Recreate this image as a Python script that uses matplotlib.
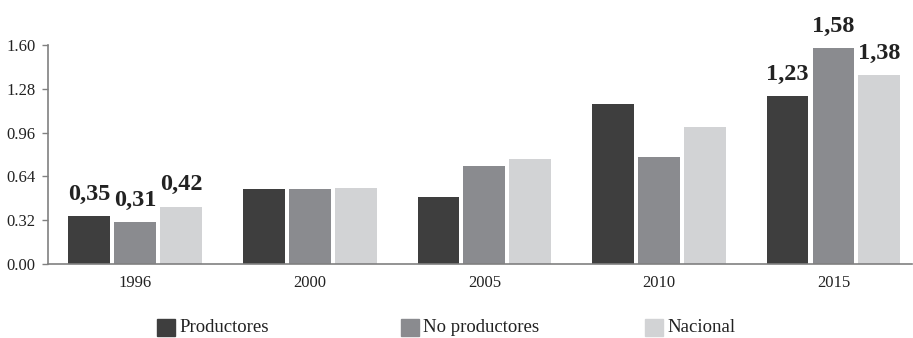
import matplotlib
matplotlib.use("Agg")
import matplotlib.pyplot as plt
from matplotlib.patches import Rectangle
import numpy as np

years = ["1996", "2000", "2005", "2010", "2015"]
series_names = ["Productores", "No productores", "Nacional"]
productores = [0.35, 0.545, 0.49, 1.17, 1.23]
no_productores = [0.31, 0.545, 0.715, 0.78, 1.58]
nacional = [0.42, 0.555, 0.765, 1.00, 1.38]
labeled_years = ["1996", "2015"]
yticks = [0.00, 0.32, 0.64, 0.96, 1.28, 1.60]

colors = ["#3e3e3e", "#8a8b8f", "#d2d3d5"]
serif = ["Liberation Serif", "DejaVu Serif"]
plt.rcParams["font.family"] = serif

W, H = 913, 338
fig = plt.figure(figsize=(W / 100, H / 100), dpi=100)
ax = fig.add_axes([48 / W, 1 - 264 / H, (912 - 48) / W, (264 - 45) / H])

x = np.arange(len(years))
width = 0.24
offset = 0.263
for i, (vals, name) in enumerate(zip([productores, no_productores, nacional], series_names)):
    bars = ax.bar(x + (i - 1) * offset, vals, width, color=colors[i], label=name)
    for j, (b, v) in enumerate(zip(bars, vals)):
        if years[j] in labeled_years:
            ax.annotate(f"{v:.2f}".replace(".", ","), (b.get_x() + b.get_width() / 2, v),
                        xytext=(0, 8), textcoords="offset points", ha="center", va="bottom",
                        fontsize=17.5, fontweight="bold", color="#222222", family=serif)

ax.set_xlim(-0.5, 4.45)
ax.set_ylim(0, 1.6)
ax.set_yticks(yticks)
ax.set_yticklabels([f"{t:.2f}" for t in yticks], fontsize=12, color="#222222", family=serif)
ax.set_xticks(x)
ax.set_xticklabels(years, fontsize=12, color="#222222", family=serif)
ax.tick_params(axis="x", length=0, pad=8)
ax.tick_params(axis="y", length=4, width=1, color="#808080", pad=5)
for s in ["top", "right"]:
    ax.spines[s].set_visible(False)
for s in ["left", "bottom"]:
    ax.spines[s].set_color("#808080")
    ax.spines[s].set_linewidth(1.2)

# legend drawn manually in figure pixel coordinates
legend_x = [157, 401, 645]
for name, col, lx in zip(series_names, colors, legend_x):
    fig.patches.append(Rectangle((lx / W, 1 - 336 / H), 18 / W, 17 / H,
                                 transform=fig.transFigure, color=col, clip_on=False))
    fig.text((lx + 22) / W, 1 - 332 / H, name, ha="left", va="baseline",
             fontsize=13.5, color="#222222", family=serif)

fig.savefig("out.png", dpi=100)
